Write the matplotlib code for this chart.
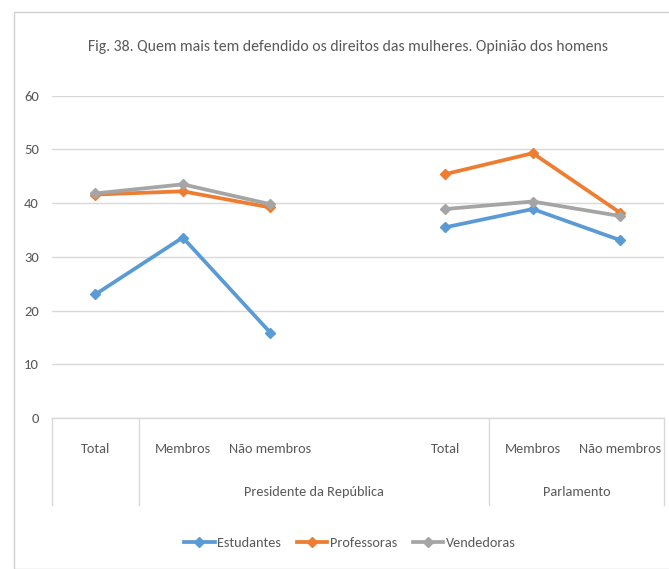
import numpy as np
import matplotlib
matplotlib.use("Agg")
import matplotlib.pyplot as plt
from matplotlib.patches import Rectangle
from matplotlib.transforms import blended_transform_factory

plt.rcParams['font.family'] = ['Carlito', 'PT Sans Narrow', 'IBM Plex Sans Condensed', 'DejaVu Sans']

title = "Fig. 38. Quem mais tem defendido os direitos das mulheres. Opinião dos homens"
categories = ["Total", "Membros", "Não membros", "", "Total", "Membros", "Não membros"]
groups = [("", -0.5, 0.5), ("Presidente da República", 0.5, 4.5), ("Parlamento", 4.5, 6.5)]
estudantes = [23.0, 33.6, 15.9, np.nan, 35.5, 38.9, 33.1]
professoras = [41.6, 42.2, 39.2, np.nan, 45.4, 49.3, 38.2]
vendedoras = [41.8, 43.5, 39.8, np.nan, 38.9, 40.3, 37.6]
series = [("Estudantes", estudantes, "#5B9BD5"),
          ("Professoras", professoras, "#ED7D31"),
          ("Vendedoras", vendedoras, "#A5A5A5")]

W, H = 669, 569
fig = plt.figure(figsize=(W / 100, H / 100), dpi=100)

# chart area border
fig.patches.append(Rectangle((13.5 / W, 0), 1.2, 1 - 11.5 / H, transform=fig.transFigure,
                             fill=False, edgecolor="#d0d0d0", lw=1.0))

ax = fig.add_axes([51.5 / W, 1 - 418 / H, (664 - 51.5) / W, (418 - 95.7) / H])
x = np.arange(len(categories))
for name, vals, col in series:
    ax.plot(x, vals, color=col, lw=2.7, marker="D", ms=5.5, label=name)

ax.set_xlim(-0.5, len(categories) - 0.5)
ax.set_ylim(0, 60)
ax.set_yticks(np.arange(0, 61, 10))
ax.yaxis.grid(True, color="#d9d9d9", lw=1)
ax.set_axisbelow(True)
for s in ax.spines.values():
    s.set_visible(False)
ax.axhline(0, color="#d9d9d9", lw=1, clip_on=False)
ax.tick_params(axis="y", length=0, pad=9, labelsize=10.5, labelcolor="#595959")
ax.set_xticks(x)
ax.set_xticklabels(categories)
ax.tick_params(axis="x", length=0, pad=18, labelsize=10.3, labelcolor="#595959")

tr = blended_transform_factory(ax.transData, ax.transAxes)
axis_h = 418 - 95.7
# category separators
for b in [-0.5, 0.5, 4.5, 6.5]:
    ax.plot([b, b], [0, -(505 - 418) / axis_h], transform=tr, color="#d9d9d9",
            lw=1, clip_on=False)
for name, a, b in groups:
    if name:
        ax.text((a + b) / 2, -(492 - 418) / axis_h, name, transform=tr, ha="center",
                va="center", fontsize=10.3, color="#595959")

fig.text(348 / W, 1 - 47 / H, title, ha="center", va="center", fontsize=11.3,
         color="#595959")

fig.legend(loc="center", bbox_to_anchor=(350 / W, 1 - 543 / H), ncol=3, frameon=False,
           fontsize=10.3, labelcolor="#595959", handlelength=2.1, handletextpad=0.2,
           columnspacing=1.1)

fig.savefig("out.png", dpi=100)
